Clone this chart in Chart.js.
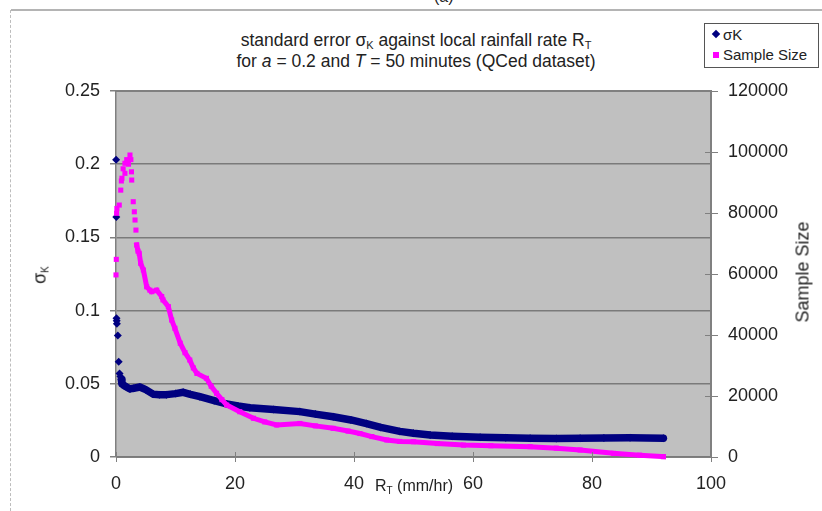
<!DOCTYPE html>
<html>
<head>
<meta charset="utf-8">
<script src="https://cdn.jsdelivr.net/npm/chart.js"></script>
<style>
  body { margin: 0; background: #fff; }
  #wrap { position: relative; width: 822px; height: 511px; overflow: hidden; font-family: "Liberation Sans", Arial, sans-serif; color: #222; }
  #chart { position: absolute; left: 0; top: 0; }
  .txt { position: absolute; white-space: nowrap; }
  .frameTop { position: absolute; left: 11px; right: 0; top: 9px; height: 2px; background: #b4b4b4; }
  .frameLeft { position: absolute; left: 10px; top: 10px; bottom: 0; border-left: 1px dashed #bdbdbd; }
  #title { left: 0; width: 832px; top: 30px; text-align: center; font-size: 17.5px; line-height: 21px; }
  #title sub { font-size: 11px; vertical-align: -3px; line-height: 0; }
  #legend { position: absolute; left: 704px; top: 23px; width: 113px; height: 43px; border: 1px solid #555; background: #fff; font-size: 15px; }
  #legend div { position: absolute; left: 18px; }
  .mk { position: absolute; }
  .axisT sub { font-size: 10px; vertical-align: -3px; line-height: 0; }
</style>
</head>
<body>
<div id="wrap">
  <div class="frameTop"></div>
  <div class="frameLeft"></div>
  <div class="txt" style="left:434px; top:-12px; font-size:16px;">(a)</div>
  <div class="txt" id="title">standard error σ<sub>K</sub> against local rainfall rate R<sub>T</sub><br>for <i>a</i> = 0.2 and <i>T</i> = 50 minutes (QCed dataset)</div>
  <canvas id="chart" width="822" height="511"></canvas>
  <div id="legend">
    <span class="mk" style="left:8px; top:7px; width:6px; height:6px; background:#000080; transform:rotate(45deg);"></span>
    <div style="top:2px;">σK</div>
    <span class="mk" style="left:8px; top:28px; width:6px; height:6px; background:#ff00ff;"></span>
    <div style="top:22px;">Sample Size</div>
  </div>
  <div class="txt axisT" style="left:375px; top:477px; font-size:16px;">R<sub>T</sub> (mm/hr)</div>
  <div class="txt axisT" style="left:40px; top:275px; font-size:18px; transform: translate(-50%,-50%) rotate(-90deg);">σ<sub>K</sub></div>
  <div class="txt" style="left:803px; top:272px; font-size:18px; transform: translate(-50%,-50%) rotate(-90deg);">Sample Size</div>
</div>
<script>
// sigma K (left axis) readings
const sigmaX = [0.02, 0.05, 0.08, 0.12, 0.15, 0.3, 0.45, 0.6, 0.75, 0.9,
  1.0, 1.3, 1.7, 2.35, 3.0, 4.0, 5.0, 6.3, 7.3, 8.5, 10.0, 11.3, 12.5, 14.1, 16.5, 18.6,
  20.5, 22.5, 26.5, 30.9, 33.5, 36.5, 39.5, 42.1, 44.5, 47.7, 50.0, 52.8, 56.5, 61.2,
  65.5, 69.6, 74.0, 78.0, 82.0, 86.4, 92.0];
const sigmaK = [0.203, 0.164, 0.0947, 0.093, 0.091, 0.083, 0.065, 0.057, 0.055, 0.053,
  0.050, 0.049, 0.048, 0.0465, 0.047, 0.0478, 0.046, 0.0428, 0.0426, 0.0426, 0.0433, 0.0442, 0.0428, 0.0412, 0.0385, 0.0362,
  0.0348, 0.0337, 0.0325, 0.031, 0.0293, 0.0275, 0.0253, 0.0228, 0.0202, 0.0175, 0.0162, 0.0150, 0.0142, 0.0135,
  0.0131, 0.0128, 0.0127, 0.0128, 0.0130, 0.0131, 0.0128];

// sample size (right axis) readings
const sizeX = [0.0, 0.05, 0.1, 0.15, 0.55, 0.8, 0.9, 1.0, 1.2, 1.5, 1.5, 1.8, 2.1, 2.35, 2.5, 2.6, 2.64,
  2.9, 3.08, 3.2, 3.35,
  3.48, 3.7, 3.9, 4.15, 4.6, 5.16, 5.7, 6.0, 6.84, 7.68, 7.9, 8.8, 9.36, 9.9, 10.8, 11.6, 12.4,
  13.0, 13.6, 15.2, 16.0, 16.9, 17.8, 18.6, 20.8, 23.1, 25.0, 27.0, 30.9, 33.5, 36.5, 39.0,
  41.0, 43.0, 45.5, 47.7, 50.0, 54.0, 58.4, 63.0, 69.6, 74.0, 78.0, 83.6, 88.0, 92.0];
const sampleSize = [59700, 64800, 79900, 81500, 82600, 87500, 90500, 91400, 94500, 93000, 96300, 97500, 96000, 99000, 97500, 93500, 90800,
  83700, 80400, 77700, 74400,
  69500, 67500, 66800, 63500, 61300, 55800, 54700, 54200, 54700, 52600, 51500, 49300, 44900, 42200, 37300, 34200, 31800,
  29200, 27400, 25800, 23200, 20900, 18800, 17050, 14850, 12700, 11500, 10500, 11000, 10200, 9400, 8500,
  7700, 6700, 5600, 5100, 5000, 4400, 3900, 3700, 3400, 2900, 2300, 1200, 600, 100];

const xTicks = [0, 20, 40, 60, 80, 100];
const leftTicks = [0, 0.05, 0.1, 0.15, 0.2, 0.25];
const rightTicks = [0, 20000, 40000, 60000, 80000, 100000, 120000];

// below these x values the readings are separate markers, not a continuous band
const sigmaBandFrom = 0.9;
const sizeBandFrom = 3.4;

const NAVY = '#000080';
const PINK = '#ff00ff';
const AXIS = '#808080';

const plotBg = {
  id: 'plotBg',
  beforeDraw(chart) {
    const { ctx, chartArea: a } = chart;
    ctx.save();
    ctx.fillStyle = '#c0c0c0';
    ctx.fillRect(a.left, a.top, a.right - a.left, a.bottom - a.top);
    ctx.restore();
  },
  afterDraw(chart) {
    // inner half of the crossing tick marks on x and right axes
    const { ctx, chartArea: a, scales } = chart;
    ctx.save();
    ctx.strokeStyle = AXIS;
    ctx.lineWidth = 1;
    xTicks.forEach(v => {
      const px = Math.round(scales.x.getPixelForValue(v)) + 0.5;
      ctx.beginPath(); ctx.moveTo(px, a.bottom - 5); ctx.lineTo(px, a.bottom); ctx.stroke();
    });
    rightTicks.forEach(v => {
      const py = Math.round(scales.y2.getPixelForValue(v)) + 0.5;
      ctx.beginPath(); ctx.moveTo(a.right - 6, py); ctx.lineTo(a.right, py); ctx.stroke();
    });
    ctx.lineWidth = 2;
    ctx.beginPath(); ctx.moveTo(a.left, a.top); ctx.lineTo(a.right, a.top); ctx.stroke();
    ctx.restore();
  }
};

const tickFont = { family: '"Liberation Sans", Arial, sans-serif', size: 18 };

new Chart(document.getElementById('chart'), {
  type: 'scatter',
  data: {
    datasets: [
      {
        label: 'σK',
        yAxisID: 'y',
        order: 1,
        data: sigmaX.map((x, i) => ({ x, y: sigmaK[i] })),
        showLine: true,
        borderColor: NAVY,
        backgroundColor: NAVY,
        borderWidth: 7.5,
        borderCapStyle: 'round',
        borderJoinStyle: 'round',
        tension: 0,
        pointStyle: 'rectRot',
        pointRadius: 4,
        pointBorderWidth: 0,
        clip: 10,
        segment: {
          borderColor: c => c.p0.parsed.x < sigmaBandFrom ? 'transparent' : NAVY
        }
      },
      {
        label: 'Sample Size',
        yAxisID: 'y2',
        order: 0,
        data: sizeX.map((x, i) => ({ x, y: sampleSize[i] })),
        showLine: true,
        borderColor: PINK,
        backgroundColor: PINK,
        borderWidth: 5,
        borderCapStyle: 'square',
        borderJoinStyle: 'miter',
        tension: 0,
        pointStyle: 'rect',
        pointRadius: 3.6,
        pointBorderWidth: 0,
        clip: 10,
        segment: {
          borderColor: c => c.p0.parsed.x < sizeBandFrom ? 'transparent' : PINK
        }
      }
    ]
  },
  options: {
    responsive: false,
    animation: false,
    layout: { padding: { top: 91, left: 0, right: 0, bottom: 0 } },
    plugins: { legend: { display: false }, tooltip: { enabled: false }, title: { display: false } },
    scales: {
      x: {
        type: 'linear', min: 0, max: 100,
        afterBuildTicks: s => { s.ticks = xTicks.map(v => ({ value: v })); },
        afterFit: s => { s.height = 54; },
        ticks: { color: '#222', font: tickFont, padding: 11, maxRotation: 0 },
        grid: { drawOnChartArea: false, tickLength: 5, color: AXIS },
        border: { color: AXIS, width: 1 }
      },
      y: {
        position: 'left', min: 0, max: 0.25,
        afterBuildTicks: s => { s.ticks = leftTicks.map(v => ({ value: v })); },
        afterFit: s => { s.width = 116; },
        ticks: { color: '#222', font: tickFont, padding: 10, callback: v => String(v) },
        grid: { color: '#7a7a7a', lineWidth: 1.5, tickLength: 6, tickColor: AXIS },
        border: { color: AXIS, width: 1.5 }
      },
      y2: {
        position: 'right', min: 0, max: 120000,
        afterBuildTicks: s => { s.ticks = rightTicks.map(v => ({ value: v })); },
        afterFit: s => { s.width = 111; },
        ticks: { color: '#222', font: tickFont, padding: 10, callback: v => String(v) },
        grid: { drawOnChartArea: false, tickLength: 7, color: AXIS },
        border: { color: AXIS, width: 2 }
      }
    }
  },
  plugins: [plotBg]
});
</script>
</body>
</html>
